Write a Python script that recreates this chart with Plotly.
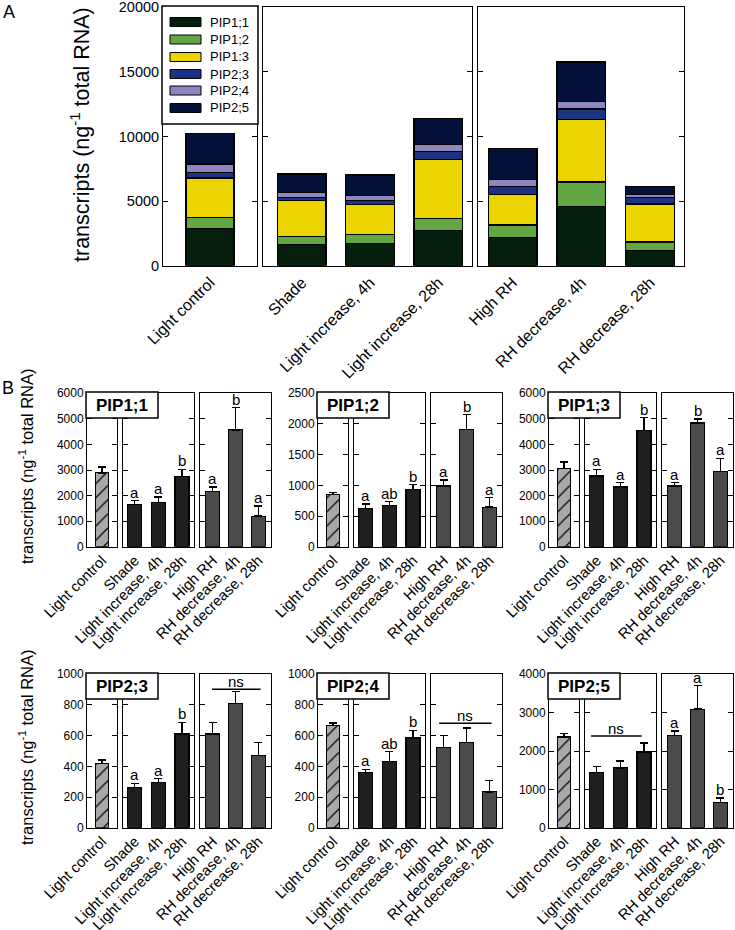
import plotly.graph_objects as go

W, H = 735, 930
FONT = "Arial, Liberation Sans, Helvetica, sans-serif"

# ---------------- data ----------------
conditions = ["Light control", "Shade", "Light increase, 4h", "Light increase, 28h",
              "High RH", "RH decrease, 4h", "RH decrease, 28h"]
groups = [[0], [1, 2, 3], [4, 5, 6]]

genes = ["PIP1;1", "PIP1;2", "PIP1;3", "PIP2;3", "PIP2;4", "PIP2;5"]
legend_labels = ["PIP1;1", "PIP1;2", "PIP1:3", "PIP2;3", "PIP2;4", "PIP2;5"]
gene_colors = ["#04200d", "#62a744", "#ebd400", "#1b3383", "#8d86c0", "#03103a"]

pip1_1 = [2890, 1640, 1730, 2740, 2170, 4570, 1200]
pip1_1_err = [230, 160, 220, 290, 170, 870, 390]
pip1_2 = [855, 620, 670, 935, 990, 1910, 646]
pip1_2_err = [28, 78, 65, 75, 100, 240, 155]
pip1_3 = [3050, 2770, 2340, 4540, 2380, 4840, 2940]
pip1_3_err = [270, 260, 170, 500, 130, 160, 520]
pip2_3 = [420, 263, 295, 611, 611, 811, 473]
pip2_3_err = [21, 27, 26, 75, 75, 75, 84]
pip2_4 = [665, 359, 432, 585, 521, 557, 234]
pip2_4_err = [17, 22, 63, 49, 79, 93, 76]
pip2_5 = [2367, 1449, 1562, 1974, 2409, 3092, 660]
pip2_5_err = [87, 157, 176, 236, 116, 614, 115]

means = [pip1_1, pip1_2, pip1_3, pip2_3, pip2_4, pip2_5]
errs = [pip1_1_err, pip1_2_err, pip1_3_err, pip2_3_err, pip2_4_err, pip2_5_err]

letters = [
    ["", "a", "a", "b", "a", "b", "a"],
    ["", "a", "ab", "b", "a", "b", "a"],
    ["", "a", "a", "b", "a", "b", "a"],
    ["", "a", "a", "b", "", "", ""],
    ["", "a", "ab", "b", "", "", ""],
    ["", "", "", "", "a", "a", "b"],
]
# (gene index, group index, x from, x to, y)
ns_marks = [(3, 2, -0.03, 2.1, 902), (4, 2, -0.2, 2.1, 681), (5, 1, -0.24, 1.9, 2392)]

y_max = [6000, 2500, 6000, 1000, 1000, 4000]
y_dtick = [1000, 500, 1000, 200, 200, 1000]

A_max, A_dtick = 20000, 5000

group_colors_B = ["#a8a8a8", "#1f1f1f", "#4a4a4a"]

# ---------------- geometry (pixels) ----------------
def px(x):
    return x / W


def py(y):
    return 1 - y / H


INSET = 1.2  # axis lines are drawn just outside the domain

A_panels = [(162, 258), (262, 473), (477, 685)]
A_ranges = [[-0.696, 0.696], [-0.565, 2.49], [-0.5, 2.49]]
A_y = (267, 6)

B_cols = [86, 317, 548]
B_rel = [(0, 32), (35.5, 109), (113, 186)]
B_ranges = [[-0.66, 0.66], [-0.51, 2.5], [-0.55, 2.55]]
B_rows = [(548, 392), (829, 673)]

fig = go.Figure()
layout = {}
annotations = []
shapes = []
n_axes = [0]


def new_axes(x0, x1, yb, yt, xr, ymax, dtick, show_ylabels, xfont, yfont, ticklen, xstand):
    n_axes[0] += 1
    n = n_axes[0]
    sx = "" if n == 1 else str(n)
    layout["xaxis" + sx] = dict(
        domain=[px(x0 + INSET), px(x1 - INSET)], range=xr, anchor="y" + sx, type="category",
        showline=True, linecolor="black", linewidth=1.4, mirror=True,
        ticks="", tickangle=-45, tickfont=dict(size=xfont, color="black", family=FONT),
        ticklabeloverflow="allow", ticklabelstandoff=xstand,
        showgrid=False, zeroline=False, automargin=False, fixedrange=True)
    layout["yaxis" + sx] = dict(
        domain=[py(yb - INSET), py(yt + INSET)], range=[0, ymax * 1.0005], anchor="x" + sx,
        showline=True, linecolor="black", linewidth=1.4, mirror="ticks",
        ticks="inside", ticklen=ticklen, tickwidth=1.2, tickcolor="black",
        dtick=dtick, tick0=0, tickformat="d", showticklabels=show_ylabels,
        ticklabeloverflow="allow",
        tickfont=dict(size=yfont, color="black", family=FONT),
        showgrid=False, zeroline=False, automargin=False, fixedrange=True)
    return "x" + sx, "y" + sx


# ---------------- panel A: stacked bars ----------------
for gi, idxs in enumerate(groups):
    x0, x1 = A_panels[gi]
    xr, yr = new_axes(x0, x1, A_y[0], A_y[1], A_ranges[gi], A_max, A_dtick,
                      gi == 0, 16, 14.5, 5, 0)
    cats = [conditions[i] for i in idxs]
    for k, g in enumerate(genes):
        fig.add_trace(go.Bar(
            x=cats, y=[means[k][i] for i in idxs], name=legend_labels[k],
            marker=dict(color=gene_colors[k], line=dict(color="black", width=1.3)),
            width=0.71, xaxis=xr, yaxis=yr, showlegend=False))

# manual legend for panel A
shapes.append(dict(type="rect", xref="paper", yref="paper", layer="above",
                   x0=px(162), x1=px(258), y0=py(124), y1=py(6),
                   fillcolor="white", line=dict(color="black", width=1.5)))
leg_rows = [22, 39.5, 57, 74, 90.5, 108]
for k, lab in enumerate(legend_labels):
    yc = leg_rows[k]
    shapes.append(dict(type="rect", xref="paper", yref="paper", layer="above",
                       x0=px(170), x1=px(201), y0=py(yc + 4.5), y1=py(yc - 4.5),
                       fillcolor=gene_colors[k], line=dict(color="black", width=1)))
    annotations.append(dict(xref="paper", yref="paper", x=px(208), y=py(yc),
                            xanchor="left", yanchor="middle", text=lab, showarrow=False,
                            font=dict(size=13, color="black", family=FONT)))

annotations.append(dict(xref="paper", yref="paper", x=px(80), y=py(135),
                        text="transcripts (ng<sup>-1</sup> total RNA)", textangle=-90,
                        showarrow=False, xanchor="center", yanchor="middle",
                        font=dict(size=21.5, color="black", family=FONT)))
annotations.append(dict(xref="paper", yref="paper", x=px(9), y=py(12), text="A",
                        showarrow=False, xanchor="center", yanchor="middle",
                        font=dict(size=18, color="black", family=FONT)))
annotations.append(dict(xref="paper", yref="paper", x=px(8), y=py(388), text="B",
                        showarrow=False, xanchor="center", yanchor="middle",
                        font=dict(size=18, color="black", family=FONT)))

# ---------------- panel B: individual genes ----------------
for k, g in enumerate(genes):
    row, col = k // 3, k % 3
    yb, yt = B_rows[row]
    off = B_cols[col]
    refs = []
    for gi, idxs in enumerate(groups):
        r0, r1 = B_rel[gi]
        xr, yr = new_axes(off + r0, off + r1, yb, yt, B_ranges[gi], y_max[k],
                          y_dtick[k], gi == 0, 14.8, 12, 5, -2)
        refs.append((xr, yr))
        cats = [conditions[i] for i in idxs]
        marker = dict(color=group_colors_B[gi], line=dict(color="black", width=1.2))
        if gi == 0:
            marker["pattern"] = dict(shape="/", fgcolor="black", bgcolor=group_colors_B[0],
                                     size=10, solidity=0.12, fillmode="replace")
        fig.add_trace(go.Bar(
            x=cats, y=[means[k][i] for i in idxs], marker=marker, width=0.6,
            error_y=dict(type="data", symmetric=False,
                         array=[errs[k][i] for i in idxs], arrayminus=[0] * len(idxs),
                         color="black", thickness=1.3, width=4),
            xaxis=xr, yaxis=yr, showlegend=False))
        for i in idxs:
            if letters[k][i]:
                annotations.append(dict(xref=xr, yref=yr, x=conditions[i],
                                        y=means[k][i] + errs[k][i], text=letters[k][i],
                                        showarrow=False, xanchor="center", yanchor="bottom",
                                        yshift=-2,
                                        font=dict(size=15, color="black", family=FONT)))
    for (gk, gg, xa, xb, yv) in ns_marks:
        if gk == k:
            xr, yr = refs[gg]
            shapes.append(dict(type="line", xref=xr, yref=yr, x0=xa, x1=xb, y0=yv, y1=yv,
                               line=dict(color="black", width=1.5)))
            annotations.append(dict(xref=xr, yref=yr, x=(xa + xb) / 2, y=yv, text="ns",
                                    showarrow=False, xanchor="center", yanchor="bottom",
                                    yshift=-3,
                                    font=dict(size=15, color="black", family=FONT)))
    # gene label box
    shapes.append(dict(type="rect", xref="paper", yref="paper", layer="above",
                       x0=px(off), x1=px(off + 72), y0=py(yt + 26), y1=py(yt),
                       fillcolor="white", line=dict(color="black", width=1.5)))
    annotations.append(dict(xref="paper", yref="paper", x=px(off + 36), y=py(yt + 13),
                            text="<b>%s</b>" % g, showarrow=False,
                            xanchor="center", yanchor="middle",
                            font=dict(size=17, color="black", family=FONT)))
    if col == 0:
        annotations.append(dict(xref="paper", yref="paper", x=px(26), y=py((yb + yt) / 2 - 4),
                                text="transcripts (ng<sup>-1</sup> total RNA)", textangle=-90,
                                showarrow=False, xanchor="center", yanchor="middle",
                                font=dict(size=16.5, color="black", family=FONT)))

fig.update_layout(**layout)
fig.update_layout(
    width=W, height=H, margin=dict(l=0, r=0, t=0, b=0),
    paper_bgcolor="white", plot_bgcolor="white", barmode="stack",
    showlegend=False, annotations=annotations, shapes=shapes,
    font=dict(family=FONT, color="black"))

fig.write_html("out.html", config={"displayModeBar": False},
               post_script="document.body.style.margin='0px';")
